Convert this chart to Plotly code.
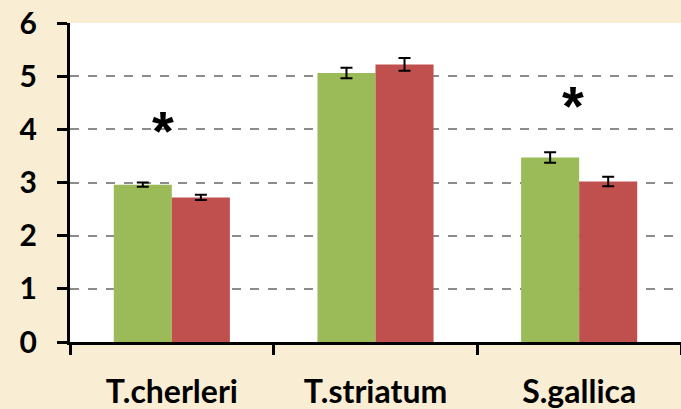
import plotly.graph_objects as go

categories = ["T.cherleri", "T.striatum", "S.gallica"]
green_vals = [2.96, 5.06, 3.47]
green_err = [0.04, 0.10, 0.10]
red_vals = [2.72, 5.22, 3.02]
red_err = [0.05, 0.12, 0.09]
star_cats = ["T.cherleri", "S.gallica"]
star_y = [4.13, 4.6]
y_ticks = [0, 1, 2, 3, 4, 5, 6]

BG = "#F9EED4"

fig = go.Figure()
fig.add_trace(go.Bar(x=categories, y=green_vals, marker_color="#9BBB59",
                     marker_line_width=0,
                     error_y=dict(type="data", array=green_err, color="black", thickness=2, width=6)))
fig.add_trace(go.Bar(x=categories, y=red_vals, marker_color="#C0504D",
                     marker_line_width=0,
                     error_y=dict(type="data", array=red_err, color="black", thickness=2, width=6)))
for c, y, dx in zip(star_cats, star_y, [-9, -6]):
    fig.add_annotation(x=c, y=y, text="<b>*</b>", showarrow=False, xshift=dx,
                       font=dict(size=56, color="black", family="Liberation Sans"),
                       yanchor="middle", yshift=-8)

fig.update_layout(
    width=681, height=409,
    margin=dict(l=70, r=0, t=23, b=67, autoexpand=False),
    paper_bgcolor=BG,
    plot_bgcolor="white",
    barmode="group", bargap=0.43, bargroupgap=0,
    showlegend=False,
    font=dict(family="Lato", size=22, color="black"),
)
fig.update_yaxes(range=[0, 6], tickvals=y_ticks, showgrid=True, gridcolor="#8c8c8c",
                 griddash="dash", gridwidth=1.5, zeroline=False, automargin=False,
                 showline=True, linecolor="black", linewidth=3,
                 ticks="outside", ticklen=10, tickwidth=3, tickcolor="black",
                 tickfont=dict(family="Lato", size=30, color="black", weight="bold"),
                 ticklabelstandoff=14)
fig.update_xaxes(showline=True, linecolor="black", linewidth=3, automargin=False,
                 ticks="outside", tickson="boundaries", ticklen=10, tickwidth=3, tickcolor="black",
                 tickfont=dict(family="Lato", size=32, color="black", weight="bold"),
                 ticklabelstandoff=20)
fig.write_html("out.html", config={"displayModeBar": False},
               post_script="document.body.style.margin='0';document.body.style.overflow='hidden';document.body.style.background='" + BG + "';")
